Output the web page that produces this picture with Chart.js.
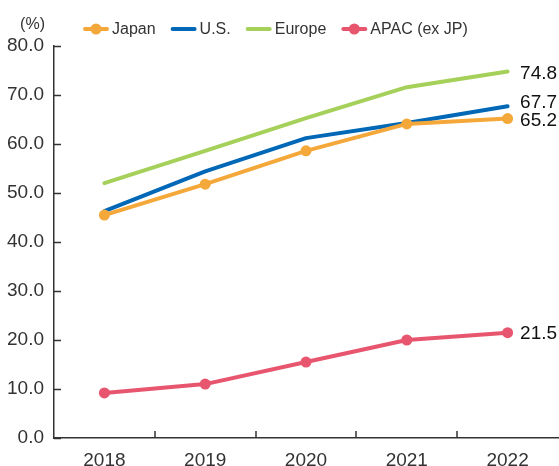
<!DOCTYPE html>
<html>
<head>
<meta charset="utf-8">
<script src="https://cdn.jsdelivr.net/npm/chart.js@4"></script>
<style>
  html, body { margin: 0; padding: 0; background: #fff; }
  #wrap { width: 559px; height: 466px; }
</style>
</head>
<body>
<div id="wrap"><canvas id="grafica"></canvas></div>
<script>
// Datos
const anios = ['2018', '2019', '2020', '2021', '2022'];
const japan = [45.5, 51.8, 58.6, 64.1, 65.2];
const us = [46.3, 54.4, 61.2, 64.3, 67.7];
const europe = [52.0, 58.6, 65.3, 71.6, 74.8];
const apac = [9.2, 11.0, 15.5, 20.0, 21.5];
const nombres = ['Japan', 'U.S.', 'Europe', 'APAC (ex JP)'];
const colores = ['#F5A83A', '#0068B6', '#A5D05A', '#E8556E'];

const FUENTE = '"Liberation Sans", Arial, sans-serif';
const GRIS = '#333333';

// Ticks hacia adentro en ambos ejes
const ticksAdentro = {
    id: 'ticksAdentro',
    beforeDatasetsDraw(chart) {
        const { ctx, scales: { x, y } } = chart;
        ctx.save();
        ctx.strokeStyle = GRIS;
        ctx.lineWidth = 1.5;
        ctx.beginPath();
        y.ticks.forEach((t, i) => {
            const py = Math.round(y.getPixelForTick(i)) + 0.5;
            ctx.moveTo(x.left, py);
            ctx.lineTo(x.left + 7, py);
        });
        for (let i = 0; i < anios.length - 1; i++) {
            const px = Math.round((x.getPixelForTick(i) + x.getPixelForTick(i + 1)) / 2);
            ctx.moveTo(px, y.bottom);
            ctx.lineTo(px, y.bottom - 7);
        }
        ctx.stroke();
        ctx.restore();
    }
};

// Valores al final de cada serie
const ajusteEtiqueta = [2, -4, 2, 1];
const etiquetasFinales = {
    id: 'etiquetasFinales',
    afterDatasetsDraw(chart) {
        const { ctx } = chart;
        ctx.save();
        ctx.font = '19px ' + FUENTE;
        ctx.fillStyle = '#111';
        ctx.textAlign = 'left';
        ctx.textBaseline = 'middle';
        chart.data.datasets.forEach((ds, i) => {
            const meta = chart.getDatasetMeta(i);
            const p = meta.data[meta.data.length - 1];
            const v = ds.data[ds.data.length - 1];
            ctx.fillText(v.toFixed(1), p.x + 12.5, p.y + ajusteEtiqueta[i]);
        });
        ctx.restore();
    }
};

// Leyenda y unidad arriba
const leyenda = {
    id: 'leyenda',
    afterDraw(chart) {
        const { ctx } = chart;
        ctx.save();
        ctx.font = '16px ' + FUENTE;
        ctx.fillStyle = GRIS;
        ctx.textBaseline = 'middle';
        ctx.textAlign = 'right';
        ctx.fillText('(%)', 45, 25);
        ctx.textAlign = 'left';
        let xx = 83;
        const yy = 29;
        chart.data.datasets.forEach((ds, i) => {
            ctx.strokeStyle = ds.borderColor;
            ctx.lineWidth = 4;
            ctx.lineCap = 'round';
            ctx.beginPath();
            ctx.moveTo(xx + 2, yy);
            ctx.lineTo(xx + 24, yy);
            ctx.stroke();
            if (ds.pointRadius > 0) {
                ctx.fillStyle = ds.borderColor;
                ctx.beginPath();
                ctx.arc(xx + 13, yy, 5.5, 0, Math.PI * 2);
                ctx.fill();
            }
            ctx.fillStyle = GRIS;
            ctx.fillText(ds.label, xx + 29, yy + 1);
            xx += 29 + ctx.measureText(ds.label).width + 15;
        });
        ctx.restore();
    }
};

function serie(i, datos, conPuntos) {
    return {
        label: nombres[i],
        data: datos,
        borderColor: colores[i],
        backgroundColor: colores[i],
        borderWidth: 4,
        borderCapStyle: 'round',
        borderJoinStyle: 'round',
        pointRadius: conPuntos ? 5.5 : 0,
        pointHoverRadius: conPuntos ? 5.5 : 0,
        pointBorderWidth: 0,
        tension: 0
    };
}

new Chart(document.getElementById('grafica'), {
    type: 'line',
    data: {
        labels: anios,
        datasets: [
            serie(0, japan, true),
            serie(1, us, false),
            serie(2, europe, false),
            serie(3, apac, true)
        ]
    },
    options: {
        responsive: true,
        maintainAspectRatio: false,
        animation: false,
        layout: { padding: { top: 46, right: 1, left: 0, bottom: 0 }, autoPadding: false },
        plugins: {
            legend: { display: false },
            tooltip: { enabled: false }
        },
        scales: {
            x: {
                offset: true,
                grid: { display: false, offset: true, drawTicks: false, tickLength: 0 },
                border: { display: true, color: GRIS, width: 1.5 },
                ticks: { color: GRIS, font: { family: FUENTE, size: 19 }, padding: 11 },
                afterFit: s => { s.height = 28; }
            },
            y: {
                min: 0,
                max: 80,
                ticks: {
                    stepSize: 10,
                    color: GRIS,
                    font: { family: FUENTE, size: 19 },
                    padding: 10,
                    callback: v => v.toFixed(1)
                },
                grid: { display: false, drawTicks: false, tickLength: 0 },
                border: { display: true, color: GRIS, width: 1.5 },
                afterFit: s => { s.width = 54; }
            }
        }
    },
    plugins: [ticksAdentro, etiquetasFinales, leyenda]
});
</script>
</body>
</html>
